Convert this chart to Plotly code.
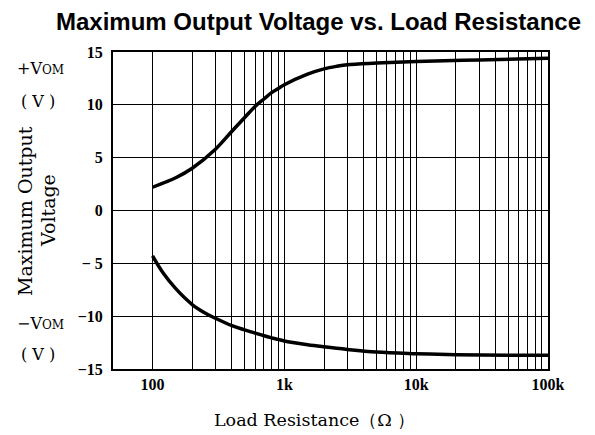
import plotly.graph_objects as go

# Data
r_pos = [100, 120, 150, 200, 300, 400, 500, 600, 700, 800, 900, 1000, 1500, 2000, 2500, 3000, 5000, 10000, 30000, 100000]
v_pos = [2.2, 2.6, 3.1, 4.0, 5.8, 7.5, 8.8, 9.85, 10.55, 11.15, 11.55, 11.9, 12.9, 13.4, 13.65, 13.8, 13.95, 14.1, 14.25, 14.4]
r_neg = [100, 120, 150, 200, 250, 300, 400, 500, 600, 700, 800, 900, 1000, 1500, 2000, 3000, 5000, 10000, 20000, 50000, 100000]
v_neg = [-4.3, -5.9, -7.4, -8.9, -9.7, -10.2, -10.9, -11.3, -11.6, -11.85, -12.05, -12.2, -12.35, -12.7, -12.9, -13.15, -13.4, -13.55, -13.65, -13.7, -13.7]

x_grid = [m * d for d in (100, 1000, 10000) for m in range(1, 10)] + [100000]
x_labels = {100: "100", 1000: "1k", 10000: "10k", 100000: "100k"}
y_ticks = [-15, -10, -5, 0, 5, 10, 15]
y_labels = ["−15", "−10", "− 5", "0", "5", "10", "15"]

serif = "Liberation Serif"
serif2 = "DejaVu Serif"

OFF = 8  # default page body margin
W, H = 595 - OFF, 435 - OFF
L, R, T, B = 113 - OFF, 548 - OFF, 52 - OFF, 369 - OFF

fig = go.Figure()
for xs, ys in ((r_pos, v_pos), (r_neg, v_neg)):
    fig.add_trace(go.Scatter(x=xs, y=ys, mode="lines",
                             line=dict(color="black", width=3.5, shape="spline", smoothing=1.0),
                             showlegend=False, hoverinfo="skip"))

fig.update_xaxes(
    type="log", range=[1.70, 5.0],
    tickvals=x_grid, ticktext=[f"<b>{x_labels.get(v, '')}</b>" for v in x_grid],
    tickangle=0,
    showgrid=True, gridcolor="black", gridwidth=1.4,
    showline=True, linecolor="black", linewidth=2, mirror=True,
    ticks="", tickfont=dict(family=serif, size=16, color="black"),
    zeroline=False,
)
fig.update_yaxes(
    range=[-15, 15], tickvals=y_ticks, ticktext=[f"<b>{t}</b>" for t in y_labels],
    showgrid=True, gridcolor="black", gridwidth=1.4,
    showline=True, linecolor="black", linewidth=2, mirror=True,
    ticks="", tickfont=dict(family=serif, size=16, color="black"),
    ticklabelstandoff=5,
    zeroline=False,
)

ann = [
    dict(text="<b>Maximum Output Voltage vs. Load Resistance</b>", x=318, y=22,
         font=dict(family="Liberation Sans", size=24, color="black")),
    dict(text="Load Resistance（Ω ）", x=314, y=420, font=dict(family=serif2, size=17.5, color="black")),
    dict(text="+V<span style='font-size:12px'>OM</span>", x=40, y=68, font=dict(family=serif2, size=16, color="black")),
    dict(text="( V )", x=38, y=101, font=dict(family=serif2, size=16, color="black")),
    dict(text="−V<span style='font-size:12px'>OM</span>", x=40, y=323, font=dict(family=serif2, size=16, color="black")),
    dict(text="( V )", x=38, y=354, font=dict(family=serif2, size=16, color="black")),
    dict(text="Maximum Output", x=25, y=211, textangle=-90, font=dict(family=serif2, size=19, color="black")),
    dict(text="Voltage", x=48, y=211, textangle=-90, font=dict(family=serif2, size=19, color="black")),
]
annotations = []
for a in ann:
    d = dict(xref="paper", yref="paper", showarrow=False, xanchor="center", yanchor="middle")
    d.update(a)
    px, py = a["x"] - OFF, a["y"] - OFF
    d["x"] = (px - L) / (R - L)
    d["y"] = (B - py) / (B - T)
    annotations.append(d)

fig.update_layout(
    width=W, height=H,
    margin=dict(l=L, r=W - R, t=T, b=H - B),
    plot_bgcolor="white", paper_bgcolor="white",
    annotations=annotations,
)
fig.write_html("out.html")
